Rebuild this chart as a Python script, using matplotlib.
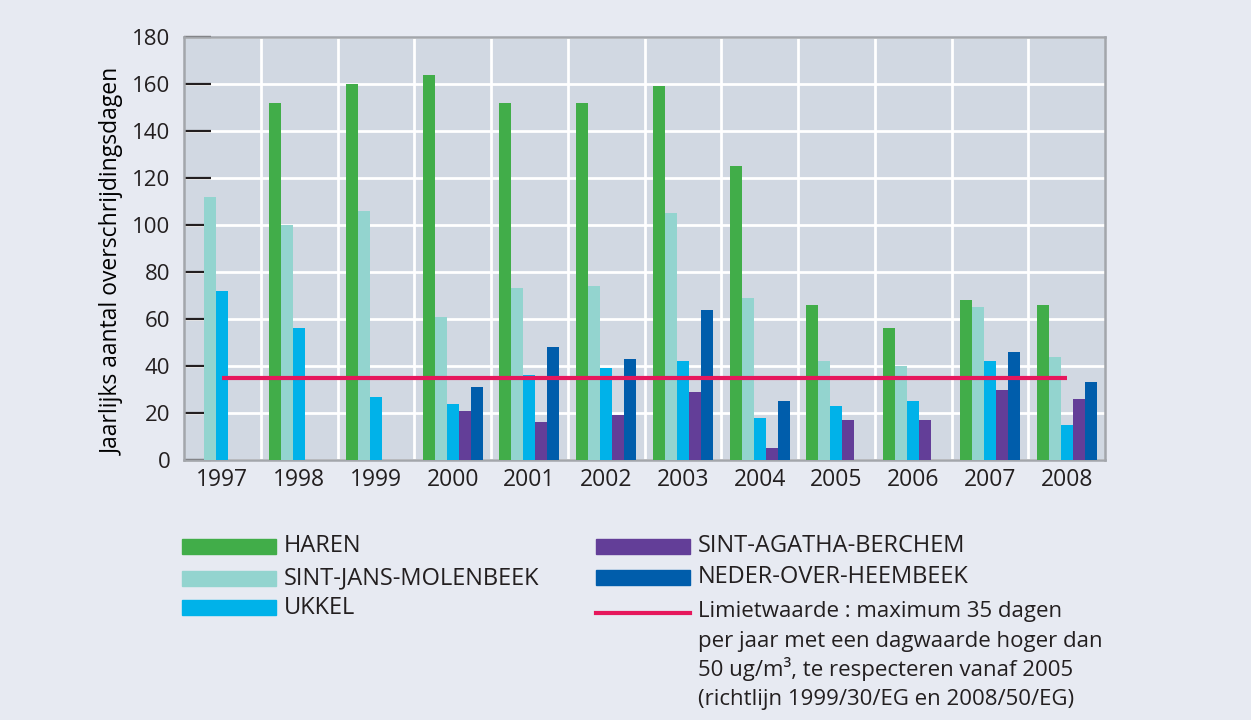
import numpy as np
import matplotlib
matplotlib.use('Agg')
import matplotlib.pyplot as plt
from matplotlib.patches import Rectangle
from matplotlib.lines import Line2D

plt.rcParams['font.family'] = ['Open Sans', 'DejaVu Sans']
plt.rcParams['text.color'] = '#231f20'

years = ['1997', '1998', '1999', '2000', '2001', '2002',
         '2003', '2004', '2005', '2006', '2007', '2008']

station_names = ['HAREN', 'SINT-JANS-MOLENBEEK', 'UKKEL',
                 'SINT-AGATHA-BERCHEM', 'NEDER-OVER-HEEMBEEK']
haren = [np.nan, 152, 160, 164, 152, 152, 159, 125, 66, 56, 68, 66]
molenbeek = [112, 100, 106, 61, 73, 74, 105, 69, 42, 40, 65, 44]
ukkel = [72, 56, 27, 24, 36, 39, 42, 18, 23, 25, 42, 15]
berchem = [np.nan, np.nan, np.nan, 21, 16, 19, 29, 5, 17, 17, 30, 26]
heembeek = [np.nan, np.nan, np.nan, 31, 48, 43, 64, 25, np.nan, np.nan, 46, 33]
limit_value = 35
limit_label = ['Limietwaarde : maximum 35 dagen',
               'per jaar met een dagwaarde hoger dan',
               '50 ug/m³, te respecteren vanaf 2005',
               '(richtlijn 1999/30/EG en 2008/50/EG)']

colors = ['#41ad49', '#93d4cf', '#00b2e9', '#633e98', '#005dab']
limit_color = '#e6175c'
fig_bg = '#e7eaf2'
plot_bg = '#d1d8e2'

fig = plt.figure(figsize=(12.51, 7.2), dpi=100, facecolor=fig_bg)
ax = fig.add_axes([0.1471, 0.3611, 0.7362, 0.5875])
ax.set_facecolor(plot_bg)

x = np.arange(len(years))
w = 0.156
series = [haren, molenbeek, ukkel, berchem, heembeek]
for k, vals in enumerate(series):
    ax.bar(x + (k - 2) * w, vals, width=w, color=colors[k], zorder=3)

ax.plot([x[0], x[-1]], [limit_value, limit_value], color=limit_color, lw=3,
        solid_capstyle='butt', zorder=4)

ax.set_xlim(-0.5, len(years) - 0.5)
ax.set_ylim(0, 180)
ax.set_yticks(range(0, 181, 20))
ax.set_xticks(x)
ax.set_xticklabels(years, fontsize=16.5)
ax.set_xticks(x[:-1] + 0.5, minor=True)
ax.tick_params(axis='x', which='both', length=0, pad=6, labelcolor='#231f20')
ax.tick_params(axis='y', direction='in', length=19.5, width=1.6, color='#231f20',
               labelsize=16, pad=10, labelcolor='#231f20')
ax.grid(axis='y', which='major', color='white', lw=2, zorder=1)
ax.grid(axis='x', which='minor', color='white', lw=2, zorder=1)
ax.set_axisbelow(True)
for s in ax.spines.values():
    s.set_color('#a3a6ab')
    s.set_linewidth(1.8)

ax.set_ylabel('Jaarlijks aantal overschrijdingsdagen', fontsize=16.5)
ax.yaxis.set_label_coords(-0.064, 0.47)

# legend, drawn by hand in two columns
W, H = 1251.0, 720.0
left_col = [(0, 546.5), (1, 578), (2, 607.5)]
for k, yy in left_col:
    fig.add_artist(Rectangle((182 / W, 1 - (yy + 7.5) / H), 94 / W, 15 / H,
                             transform=fig.transFigure, color=colors[k]))
    fig.text(284 / W, 1 - yy / H, station_names[k], fontsize=17,
             va='center', ha='left')
right_col = [(3, 546.5), (4, 577)]
for k, yy in right_col:
    fig.add_artist(Rectangle((596 / W, 1 - (yy + 7.5) / H), 94 / W, 15 / H,
                             transform=fig.transFigure, color=colors[k]))
    fig.text(698 / W, 1 - yy / H, station_names[k], fontsize=17,
             va='center', ha='left')
fig.add_artist(Line2D([596 / W, 690 / W], [1 - 613 / H, 1 - 613 / H],
                      transform=fig.transFigure, color=limit_color, lw=3))
for i, line in enumerate(limit_label):
    fig.text(698 / W, 1 - (617 + 29.5 * i) / H, line, fontsize=16,
             va='baseline', ha='left')

fig.savefig('out.png', dpi=100, facecolor=fig_bg)
